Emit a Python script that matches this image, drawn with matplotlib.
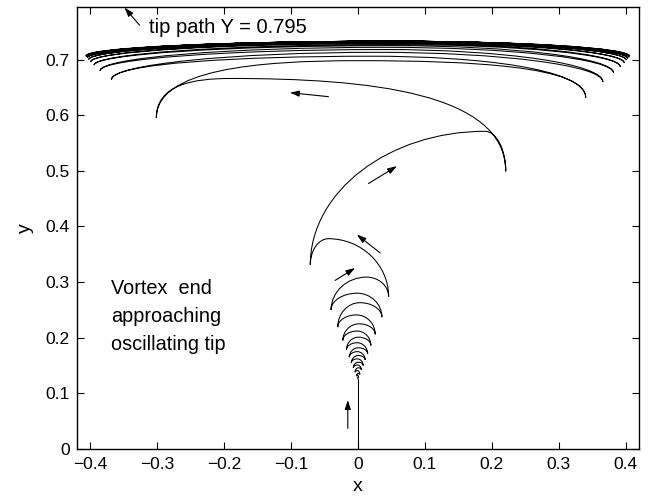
import matplotlib
matplotlib.use("Agg")
import matplotlib.pyplot as plt
from matplotlib.path import Path
from matplotlib.patches import PathPatch

plt.rcParams["font.family"] = ["Liberation Sans", "DejaVu Sans"]

# straight rise of the vortex end before it starts to swing
stem_x = [0.0, 0.0]
stem_y = [0.0, 0.125]

# cusps (turning points) of the vortex-end path, in time order
tip_x = [0.000, 0.001, -0.002, 0.003, -0.004, 0.0054, -0.0067, 0.008, -0.0096, 0.011,
         -0.0128, 0.0147, -0.017, 0.0195, -0.0224, 0.026, -0.030, 0.036, -0.040, 0.046,
         -0.071, 0.221, -0.301, 0.3405, -0.368, 0.366, -0.385, 0.382, -0.394, 0.392,
         -0.399, 0.398, -0.402, 0.401, -0.404, 0.403, -0.405, 0.405, -0.406, 0.406,
         -0.406]
tip_y = [0.125, 0.128, 0.131, 0.134, 0.138, 0.142, 0.146, 0.150, 0.155, 0.160,
         0.165, 0.171, 0.178, 0.186, 0.195, 0.206, 0.219, 0.237, 0.250, 0.274,
         0.331, 0.499, 0.595, 0.6315, 0.664, 0.660, 0.680, 0.676, 0.690, 0.687,
         0.696, 0.694, 0.700, 0.699, 0.703, 0.702, 0.705, 0.704, 0.706, 0.706,
         0.707]

# highest point of each arc between two successive cusps
top_x = [0.0005, -0.0005, 0.0005, -0.0005, 0.0007, -0.0007, 0.0007, -0.0008, 0.0007, -0.0009,
         0.001, -0.001, 0.001, -0.001, 0.002, -0.002, 0.003, -0.001, 0.013, -0.044,
         0.19, -0.19, 0.0, 0.02, 0.03, 0.04, 0.04, 0.05, 0.05, 0.05,
         0.05, 0.05, 0.05, 0.05, 0.05, 0.05, 0.05, 0.05, 0.05, 0.05]
top_y = [0.130, 0.133, 0.136, 0.141, 0.146, 0.151, 0.156, 0.162, 0.168, 0.175,
         0.182, 0.191, 0.201, 0.212, 0.225, 0.241, 0.263, 0.280, 0.309, 0.378,
         0.571, 0.666, 0.698, 0.706, 0.713, 0.718, 0.722, 0.725, 0.727, 0.729,
         0.730, 0.731, 0.732, 0.732, 0.733, 0.733, 0.733, 0.733, 0.733, 0.733]

# direction arrows along the path (tail -> head)
arrow_tail_x = [-0.015, -0.034, 0.0334, 0.0159, -0.044]
arrow_tail_y = [0.037, 0.303, 0.3524, 0.4772, 0.6333]
arrow_head_x = [-0.015, -0.004, -0.0015, 0.0584, -0.1014]
arrow_head_y = [0.088, 0.3254, 0.3854, 0.5084, 0.6405]

xticks = [-0.4, -0.3, -0.2, -0.1, 0, 0.1, 0.2, 0.3, 0.4]
xtick_labels = ["\u22120.4", "\u22120.3", "\u22120.2", "\u22120.1", "0", "0.1", "0.2", "0.3", "0.4"]
yticks = [0, 0.1, 0.2, 0.3, 0.4, 0.5, 0.6, 0.7]
ytick_labels = ["0", "0.1", "0.2", "0.3", "0.4", "0.5", "0.6", "0.7"]

note_lines = ["Vortex  end", "approaching", "oscillating tip"]
note_y = [0.288, 0.238, 0.188]

# how full each half-arc is (cubic control point placement); the two
# long flat sweeps are boxier than the rest
KV, KH = 0.55, 0.55
boxy = {21: (0.85, 0.5), 22: (0.85, 0.5), 23: (0.7, 0.5)}

fig = plt.figure(figsize=(6.51, 5.0), dpi=100)
ax = fig.add_axes([0.1178, 0.102, 0.8637, 0.8846])

ax.plot(stem_x, stem_y, color="k", lw=0.75)

verts = [(tip_x[0], tip_y[0])]
codes = [Path.MOVETO]
for i in range(len(top_x)):
    kv, kh = boxy.get(i, (KV, KH))
    x0, y0 = tip_x[i], tip_y[i]
    xt, yt = top_x[i], top_y[i]
    x1, y1 = tip_x[i + 1], tip_y[i + 1]
    verts += [(x0, y0 + kv * (yt - y0)), (xt + kh * (x0 - xt), yt), (xt, yt),
              (xt + kh * (x1 - xt), yt), (x1, y1 + kv * (yt - y1)), (x1, y1)]
    codes += [Path.CURVE4] * 6
ax.add_patch(PathPatch(Path(verts, codes), fill=False, edgecolor="k", lw=0.75))

for tx, ty, hx, hy in zip(arrow_tail_x, arrow_tail_y, arrow_head_x, arrow_head_y):
    ax.annotate("", xy=(hx, hy), xytext=(tx, ty),
                arrowprops=dict(arrowstyle="-|>,head_length=0.55,head_width=0.18",
                                color="k", lw=0.8, shrinkA=0, shrinkB=0),
                annotation_clip=False)

ax.annotate("", xy=(-0.3486, 0.7935), xytext=(-0.326, 0.7617),
            arrowprops=dict(arrowstyle="-|>,head_length=0.55,head_width=0.18",
                            color="k", lw=0.8, shrinkA=0, shrinkB=0))
ax.text(-0.312, 0.758, "tip path Y = 0.795", fontsize=14.5, va="center", ha="left")

for line, yy in zip(note_lines, note_y):
    ax.text(-0.368, yy, line, fontsize=14.3, va="center", ha="left")

ax.set_xlim(-0.42, 0.42)
ax.set_ylim(0, 0.795)
ax.set_xticks(xticks)
ax.set_xticklabels(xtick_labels)
ax.set_yticks(yticks)
ax.set_yticklabels(ytick_labels)
ax.tick_params(direction="in", top=True, right=True, length=5, width=0.8,
               labelsize=12.5)
ax.tick_params(axis="x", pad=6)
ax.tick_params(axis="y", pad=5)
for sp in ax.spines.values():
    sp.set_linewidth(1.0)
ax.set_xlabel("x", fontsize=14, labelpad=4)
ax.set_ylabel("y", fontsize=14, labelpad=8)

fig.savefig("out.png", dpi=100)
